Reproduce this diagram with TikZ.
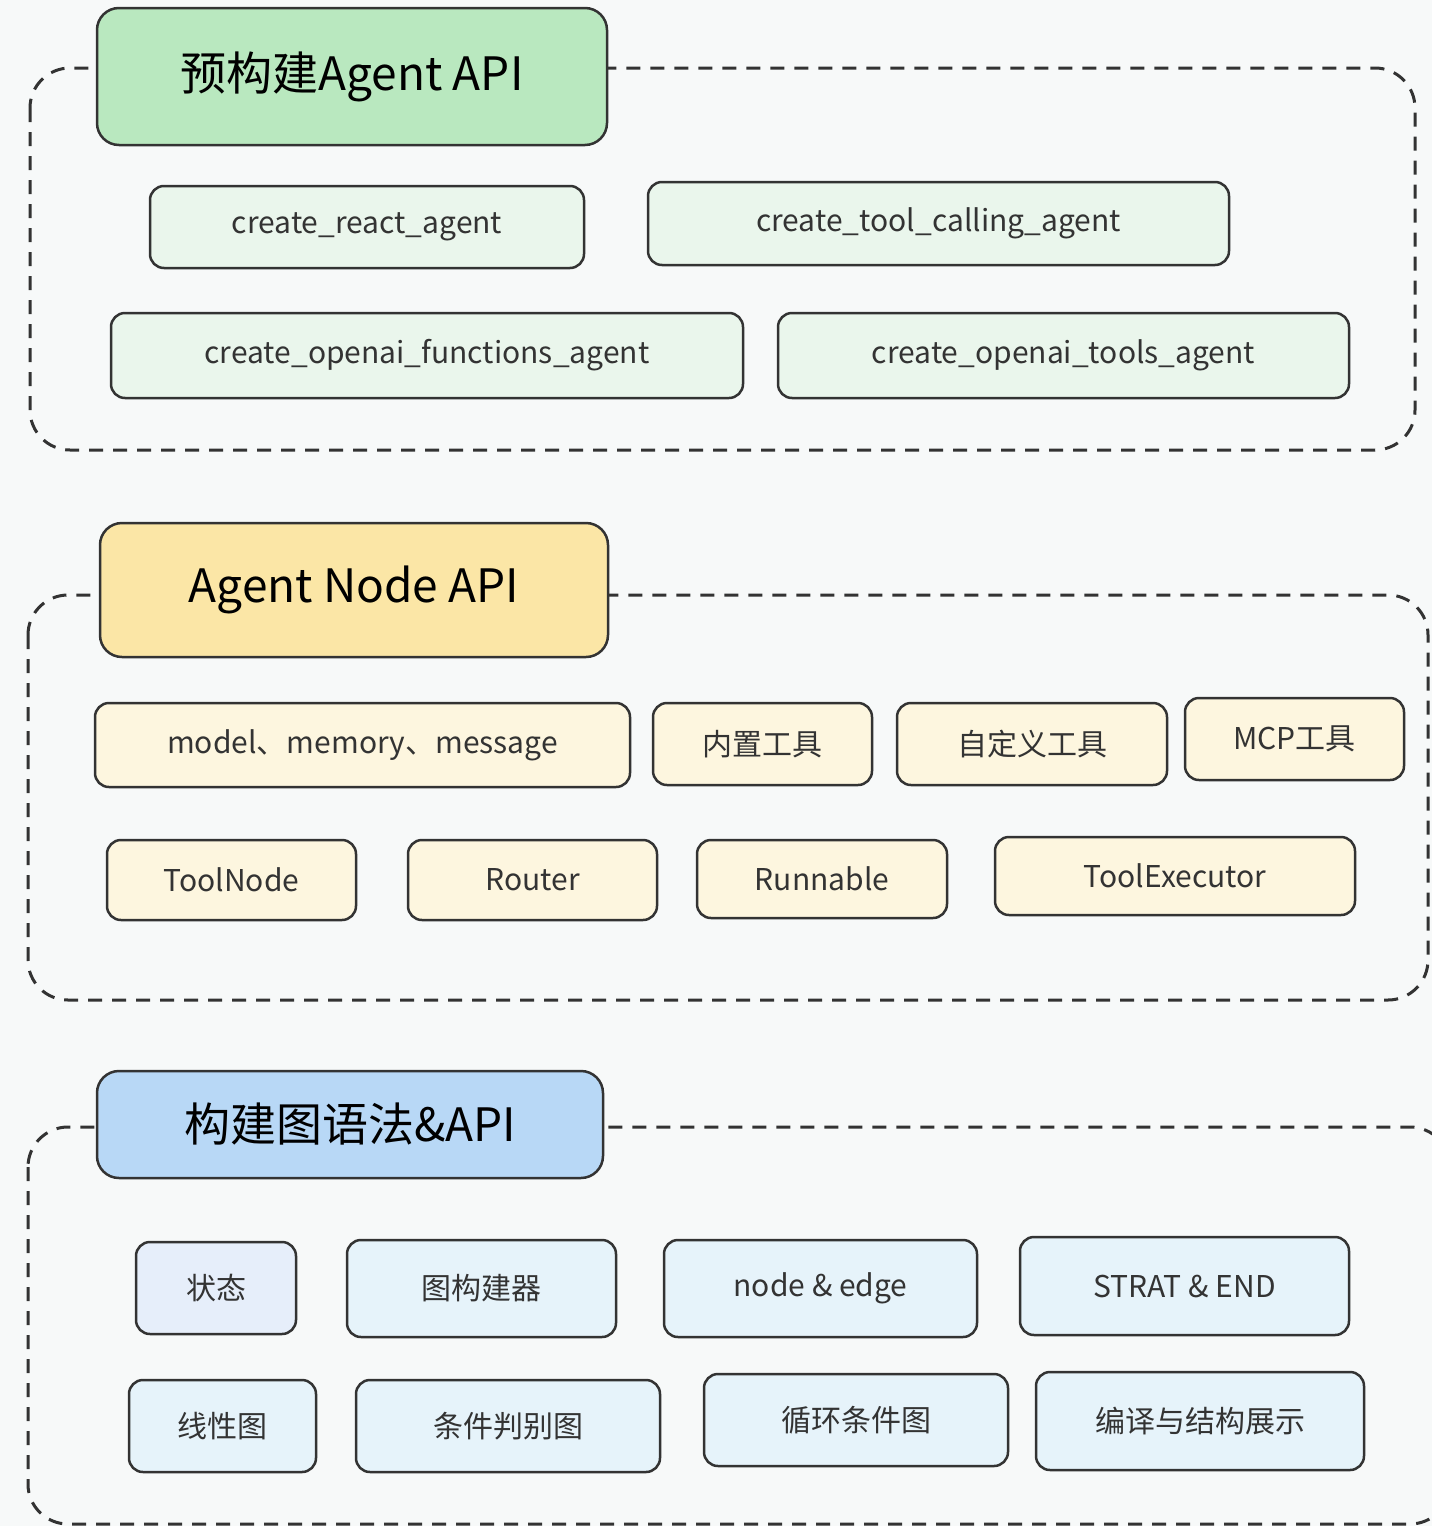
\documentclass[tikz,border=0pt]{standalone}
\usepackage{fontspec}
\setmainfont{Noto Sans CJK SC}
\begin{document}
\definecolor{bg}{HTML}{F7F9F9}
\definecolor{hg}{HTML}{B9E8BF}\definecolor{lg}{HTML}{EAF6EC}
\definecolor{hy}{HTML}{FBE6A6}\definecolor{ly}{HTML}{FDF6DF}
\definecolor{hb}{HTML}{B8D8F6}\definecolor{lb}{HTML}{E6F3FA}\definecolor{lb2}{HTML}{E6EEFA}
\definecolor{ink}{HTML}{333333}
\begin{tikzpicture}[x=1pt,y=-1pt,
  grp/.style={draw=ink,line width=3pt,dash pattern=on 14pt off 10pt,rounded corners=40pt},
  bx/.style={draw=ink,line width=2.5pt,rounded corners=14pt,inner sep=0pt,font=\fontsize{30}{36}\selectfont,text=ink},
  hd/.style={bx,rounded corners=22pt,font=\fontsize{46}{54}\selectfont\itshape,text=black}]
\useasboundingbox (0,0) rectangle (1432,1526);
\clip (0,0) rectangle (1432,1526);
\fill[bg] (0,0) rectangle (1432,1526);
\newcommand\bx[7]{\node[#6,minimum width={(#4-#2)*1pt},minimum height={(#5-#3)*1pt}] (#1) at ({(#2+#4)/2},{(#3+#5)/2}) {#7};}
% group 1
\draw[grp] (30,68) rectangle (1415,450);
\bx{h1}{97}{8}{607}{145}{hd,fill=hg}{预构建Agent API}
\bx{a1}{150}{186}{584}{268}{bx,fill=lg}{create\_react\_agent}
\bx{a2}{648}{182}{1229}{265}{bx,fill=lg}{create\_tool\_calling\_agent}
\bx{a3}{111}{313}{743}{398}{bx,fill=lg}{create\_openai\_functions\_agent}
\bx{a4}{778}{313}{1349}{398}{bx,fill=lg}{create\_openai\_tools\_agent}
% group 2
\draw[grp] (28,595) rectangle (1428,1000);
\bx{h2}{100}{523}{608}{657}{hd,fill=hy}{Agent Node API}
\bx{b1}{95}{703}{630}{787}{bx,fill=ly}{model、memory、message}
\bx{b2}{653}{703}{872}{785}{bx,fill=ly}{内置工具}
\bx{b3}{897}{703}{1167}{785}{bx,fill=ly}{自定义工具}
\bx{b4}{1185}{698}{1404}{780}{bx,fill=ly}{MCP工具}
\bx{b5}{107}{840}{356}{920}{bx,fill=ly}{ToolNode}
\bx{b6}{408}{840}{657}{920}{bx,fill=ly}{Router}
\bx{b7}{697}{840}{947}{918}{bx,fill=ly}{Runnable}
\bx{b8}{995}{837}{1355}{915}{bx,fill=ly}{ToolExecutor}
% group 3
\draw[grp] (28,1127) rectangle (1450,1524);
\bx{h3}{97}{1071}{603}{1178}{hd,fill=hb}{构建图语法\&API}
\bx{c1}{136}{1242}{296}{1334}{bx,fill=lb2}{状态}
\bx{c2}{347}{1240}{616}{1337}{bx,fill=lb}{图构建器}
\bx{c3}{664}{1240}{977}{1337}{bx,fill=lb}{node \& edge}
\bx{c4}{1020}{1237}{1349}{1335}{bx,fill=lb}{STRAT \& END}
\bx{c5}{129}{1380}{316}{1472}{bx,fill=lb}{线性图}
\bx{c6}{356}{1380}{660}{1472}{bx,fill=lb}{条件判别图}
\bx{c7}{704}{1374}{1008}{1466}{bx,fill=lb}{循环条件图}
\bx{c8}{1036}{1372}{1364}{1470}{bx,fill=lb}{编译与结构展示}
\end{tikzpicture}
\end{document}
